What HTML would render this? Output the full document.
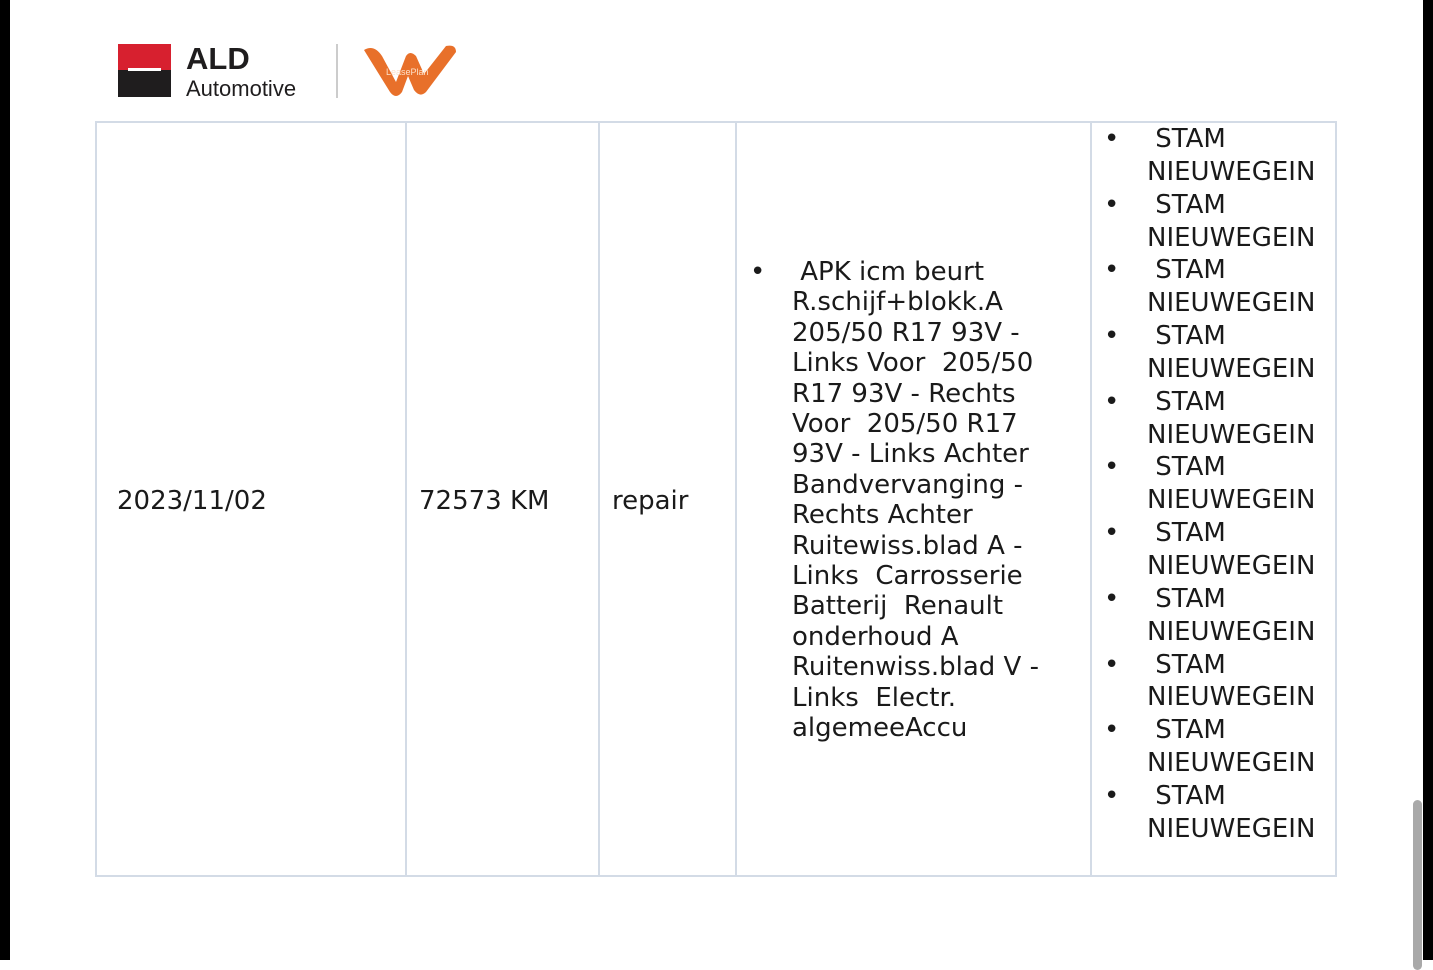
<!DOCTYPE html>
<html><head><meta charset="utf-8"><style>
html,body{margin:0;padding:0}
body{width:1433px;height:960px;position:relative;overflow:hidden;background:#fff;font-family:"DejaVu Sans","Liberation Sans",sans-serif;color:#1a1a1a}
.t{position:absolute;font-size:26px;line-height:30px;white-space:pre}
.v{position:absolute;background:#d3dbe6}
</style></head><body>
<div style="position:absolute;left:0;top:0;width:10px;height:960px;background:#000"></div>
<div style="position:absolute;left:1423px;top:0;width:10px;height:960px;background:#000"></div>
<div style="position:absolute;left:1413px;top:800px;width:9px;height:170px;background:#a9a9a9;border-radius:5px"></div>
<!-- logo -->
<div style="position:absolute;left:118px;top:44px;width:53px;height:26px;background:#d7202f"></div>
<div style="position:absolute;left:118px;top:70px;width:53px;height:27px;background:#1f1d1e"></div>
<div style="position:absolute;left:128px;top:68px;width:33px;height:3px;background:#fff"></div>
<div style="position:absolute;left:186px;top:42px;font-family:'Liberation Sans',sans-serif;font-size:31px;font-weight:bold;color:#1f1d1e;line-height:34px">ALD</div>
<div style="position:absolute;left:186px;top:76px;font-family:'Liberation Sans',sans-serif;font-size:22px;color:#1f1d1e;line-height:26px">Automotive</div>
<div style="position:absolute;left:336px;top:44px;width:2px;height:54px;background:#ccc"></div>
<svg style="position:absolute;left:360px;top:42px" width="100" height="58" viewBox="0 0 100 58">
<path d="M4 8 Q14 2 22 14 L36 40 L46 14 Q50 8 56 14 L64 32 L86 4 Q96 2 96 10 L66 50 Q60 56 54 48 L48 34 L42 50 Q36 58 30 50 Z" fill="#e8702a"/>
<text x="26" y="33" font-size="9" fill="#fde0c8" font-family="Liberation Sans">LeasePlan</text>
</svg>
<!-- table -->
<div style="position:absolute;left:95px;top:121px;width:1238px;height:752px;border:2px solid #d3dbe6"></div>
<div class="v" style="left:405px;top:122px;width:2px;height:754px"></div>
<div class="v" style="left:598px;top:122px;width:2px;height:754px"></div>
<div class="v" style="left:735px;top:122px;width:2px;height:754px"></div>
<div class="v" style="left:1090px;top:122px;width:2px;height:754px"></div>
<div class="t" style="left:117px;top:486px">2023/11/02</div>
<div class="t" style="left:419px;top:486px">72573 KM</div>
<div class="t" style="left:612px;top:486px">repair</div>
<div class="t" style="left:750px;top:257px">•</div>
<div class="t" style="left:792px;top:257px;line-height:30.4px"> APK icm beurt
R.schijf+blokk.A
205/50 R17 93V -
Links Voor  205/50
R17 93V - Rechts
Voor  205/50 R17
93V - Links Achter
Bandvervanging -
Rechts Achter
Ruitewiss.blad A -
Links  Carrosserie
Batterij  Renault
onderhoud A
Ruitenwiss.blad V -
Links  Electr.
algemeeAccu</div>
<div class="t" style="left:1104px;top:123px;line-height:32.85px">•

•

•

•

•

•

•

•

•

•

•</div>
<div class="t" style="left:1147px;top:123px;line-height:32.85px"> STAM
NIEUWEGEIN
 STAM
NIEUWEGEIN
 STAM
NIEUWEGEIN
 STAM
NIEUWEGEIN
 STAM
NIEUWEGEIN
 STAM
NIEUWEGEIN
 STAM
NIEUWEGEIN
 STAM
NIEUWEGEIN
 STAM
NIEUWEGEIN
 STAM
NIEUWEGEIN
 STAM
NIEUWEGEIN</div>
</body></html>
